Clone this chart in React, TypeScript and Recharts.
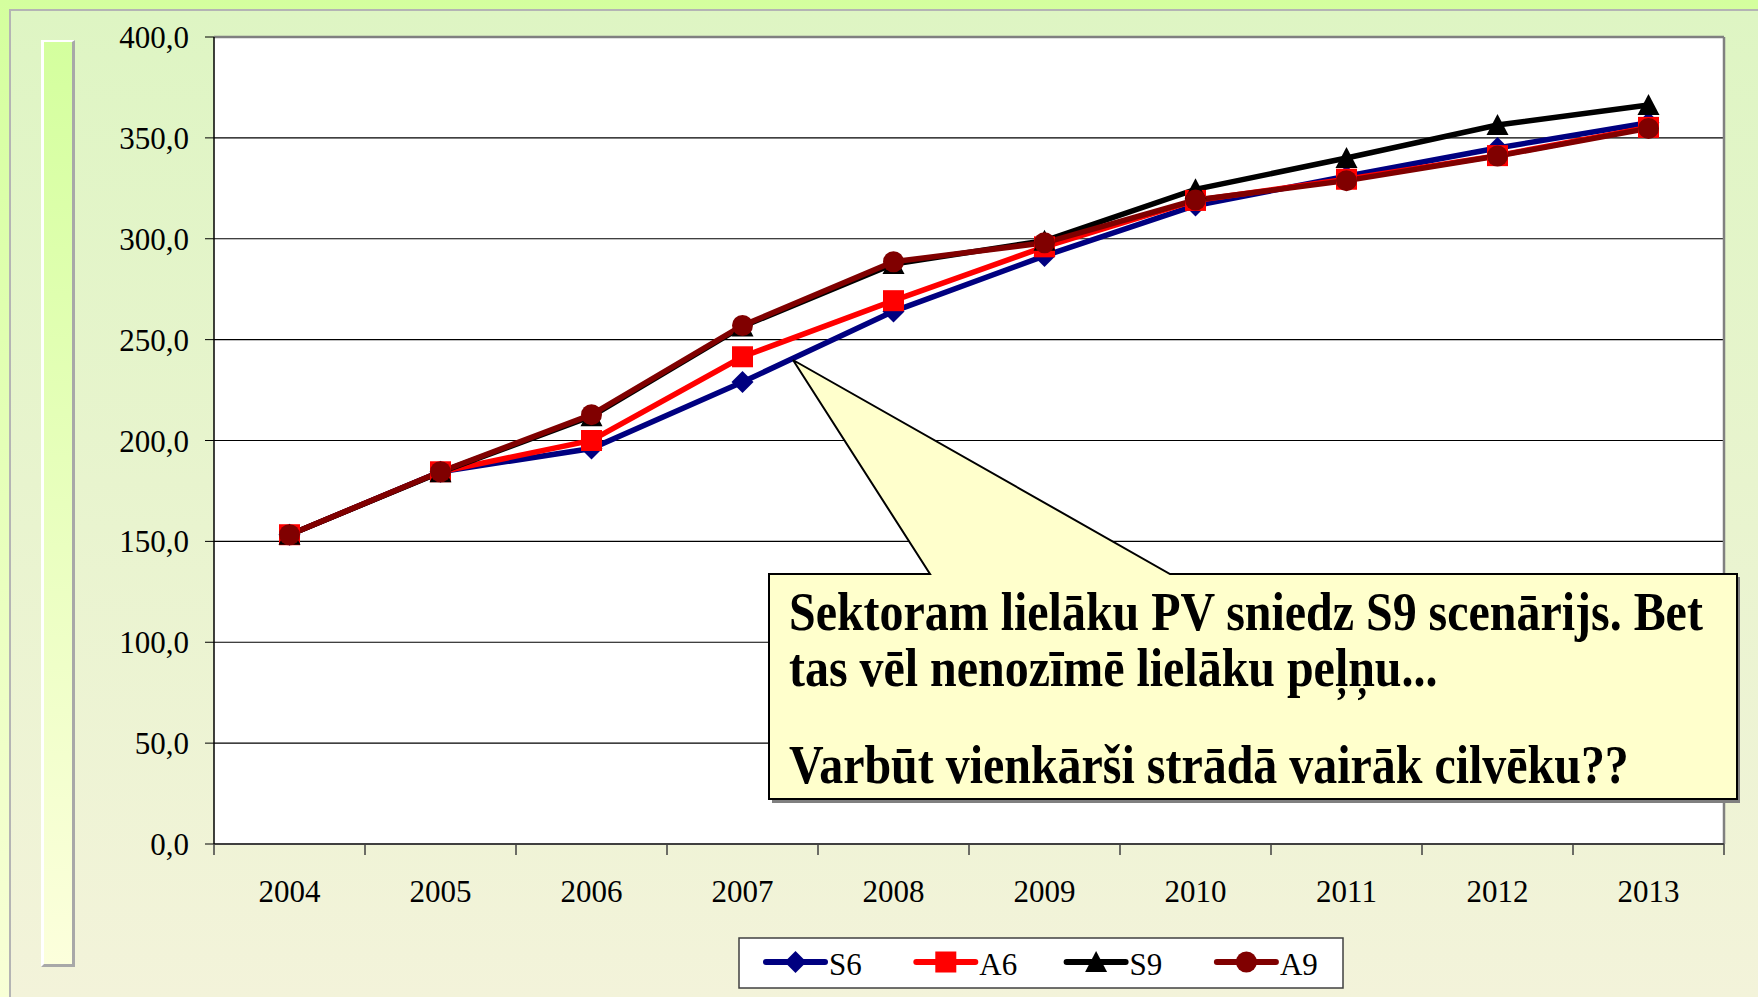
import React from 'react';
import { LineChart, Line, XAxis, YAxis, CartesianGrid, ReferenceLine } from 'recharts';

const years = ['2004', '2005', '2006', '2007', '2008', '2009', '2010', '2011', '2012', '2013'];
const s6 = [153.3, 184.5, 196, 229, 264, 291.5, 316.5, 331, 345, 357.5];
const a6 = [153.3, 184.5, 200, 241.5, 269.3, 296, 319, 329.5, 341.2, 355.2];
const s9 = [153.3, 184.3, 212, 256.5, 287.5, 299, 324.5, 340, 356.4, 366.3];
const a9 = [153.3, 184.5, 212.8, 257, 288.6, 298, 319.2, 328.8, 341, 354.7];
const yTicks = [0, 50, 100, 150, 200, 250, 300, 350, 400];

const seriesNames = ['S6', 'A6', 'S9', 'A9'];
const seriesColors = ['#000080', '#FF0000', '#000000', '#800000'];
const seriesShapes = ['diamond', 'square', 'triangle', 'circle'];
const seriesValues = [s6, a6, s9, a9];

const noteLines = [
  'Sektoram lielāku PV sniedz S9 scenārijs. Bet',
  'tas vēl nenozīmē lielāku peļņu...',
  'Varbūt vienkārši strādā vairāk cilvēku??',
];

const data = years.map((y, i) => {
  const row: any = { idx: i, year: y };
  seriesNames.forEach((n, k) => {
    row[n] = seriesValues[k][i];
  });
  return row;
});

const xTicks: number[] = [];
for (let i = 0; i <= years.length; i++) {
  xTicks.push(i - 0.5);
  if (i < years.length) xTicks.push(i);
}

const FONT = "'Liberation Serif', 'Times New Roman', serif";

function Marker({ cx, cy, shape, color }: any) {
  if (cx == null || cy == null) return null;
  if (shape === 'diamond') {
    return <polygon points={`${cx},${cy - 11} ${cx + 11},${cy} ${cx},${cy + 11} ${cx - 11},${cy}`} fill={color} />;
  }
  if (shape === 'square') {
    return <rect x={cx - 10.5} y={cy - 10.5} width={21} height={21} fill={color} />;
  }
  if (shape === 'triangle') {
    return <polygon points={`${cx},${cy - 11} ${cx + 11},${cy + 10} ${cx - 11},${cy + 10}`} fill={color} />;
  }
  return <circle cx={cx} cy={cy} r={10.5} fill={color} />;
}

function XTick(props: any) {
  const { x, y, payload } = props;
  const v = payload.value;
  if (Number.isInteger(v)) {
    return (
      <text x={x} y={y + 58} textAnchor="middle" fontFamily={FONT} fontSize={31} fill="#000">
        {years[v]}
      </text>
    );
  }
  return <line x1={x} x2={x} y1={y} y2={y + 11} stroke="#404040" strokeWidth={1.5} />;
}

export default function App() {
  return (
    <div
      style={{
        position: 'absolute',
        left: 0,
        top: 0,
        width: 1758,
        height: 997,
        overflow: 'hidden',
        background: 'linear-gradient(to bottom, #d4ff9e, #f8ffd6)',
      }}
    >
      <div
        style={{
          position: 'absolute',
          left: 9,
          top: 9,
          width: 1758 - 9,
          height: 997 - 9,
          boxSizing: 'border-box',
          borderLeft: '2px solid #b4b4b4',
          borderTop: '2px solid #b4b4b4',
          background: 'linear-gradient(to bottom, #def5c3, #f3f3da)',
        }}
      />
      <div
        style={{
          position: 'absolute',
          left: 41,
          top: 40,
          width: 34,
          height: 927,
          boxSizing: 'border-box',
          borderLeft: '3px solid #ffffff',
          borderTop: '2px solid #ffffff',
          borderRight: '3px solid #a8a8a8',
          borderBottom: '3px solid #a8a8a8',
          background: 'linear-gradient(to bottom, #d4ff9e, #fcffdc)',
        }}
      />
      <div style={{ position: 'absolute', left: 0, top: 0 }}>
        <LineChart width={1758} height={997} data={data} margin={{ top: 37, right: 34, bottom: 0, left: 0 }}>
          <CartesianGrid horizontal vertical={false} stroke="#000" strokeWidth={1.2} fill="#ffffff" />
          <XAxis
            dataKey="idx"
            type="number"
            domain={[-0.5, 9.5]}
            ticks={xTicks}
            interval={0}
            allowDecimals
            tickLine={false}
            tickSize={0}
            tickMargin={0}
            axisLine={{ stroke: '#404040', strokeWidth: 2 }}
            tick={<XTick />}
            height={153}
          />
          <YAxis
            type="number"
            domain={[0, 400]}
            ticks={yTicks}
            interval={0}
            width={214}
            tickSize={9}
            tickMargin={16}
            tickLine={{ stroke: '#000' }}
            axisLine={{ stroke: '#000', strokeWidth: 1.5 }}
            tick={{ fontSize: 31, fill: '#000', fontFamily: FONT }}
            tickFormatter={(v: number) => v.toFixed(1).replace('.', ',')}
          />
          <ReferenceLine y={400} stroke="#808080" strokeWidth={2.5} />
          <ReferenceLine x={9.5} stroke="#808080" strokeWidth={2.5} />
          {seriesNames.map((n, k) => (
            <Line
              key={n}
              dataKey={n}
              type="linear"
              stroke={seriesColors[k]}
              strokeWidth={5.5}
              isAnimationActive={false}
              activeDot={false}
              dot={(p: any) => (
                <Marker key={`${n}-${p.index}`} cx={p.cx} cy={p.cy} shape={seriesShapes[k]} color={seriesColors[k]} />
              )}
            />
          ))}
        </LineChart>
      </div>
      <svg
        width={1758}
        height={997}
        style={{ position: 'absolute', left: 0, top: 0, pointerEvents: 'none' }}
      >
        <rect x={772} y={577} width={968} height={226} fill="#808080" />
        <path
          d="M769,574 L930,574 L793,360 L1170,574 L1737,574 L1737,799 L769,799 Z"
          fill="#ffffcc"
          stroke="#000"
          strokeWidth={2}
          strokeLinejoin="miter"
        />
        {noteLines.map((t, i) => (
          <text
            key={i}
            transform={`translate(789,${[630, 686, 783][i]}) scale(0.888,1)`}
            fontFamily={FONT}
            fontWeight="bold"
            fontSize={54}
            fill="#000"
          >
            {t}
          </text>
        ))}
        <rect x={739} y={938} width={604} height={50} fill="#fff" stroke="#404040" strokeWidth={1.5} />
        {seriesNames.map((n, k) => {
          const x0 = 766 + k * 150.3;
          return (
            <g key={n}>
              <line x1={x0} x2={x0 + 59} y1={962} y2={962} stroke={seriesColors[k]} strokeWidth={6} strokeLinecap="round" />
              <Marker cx={x0 + 29.5} cy={962} shape={seriesShapes[k]} color={seriesColors[k]} />
              <text x={x0 + 63} y={975} fontFamily={FONT} fontSize={31} fill="#000">
                {n}
              </text>
            </g>
          );
        })}
      </svg>
    </div>
  );
}
